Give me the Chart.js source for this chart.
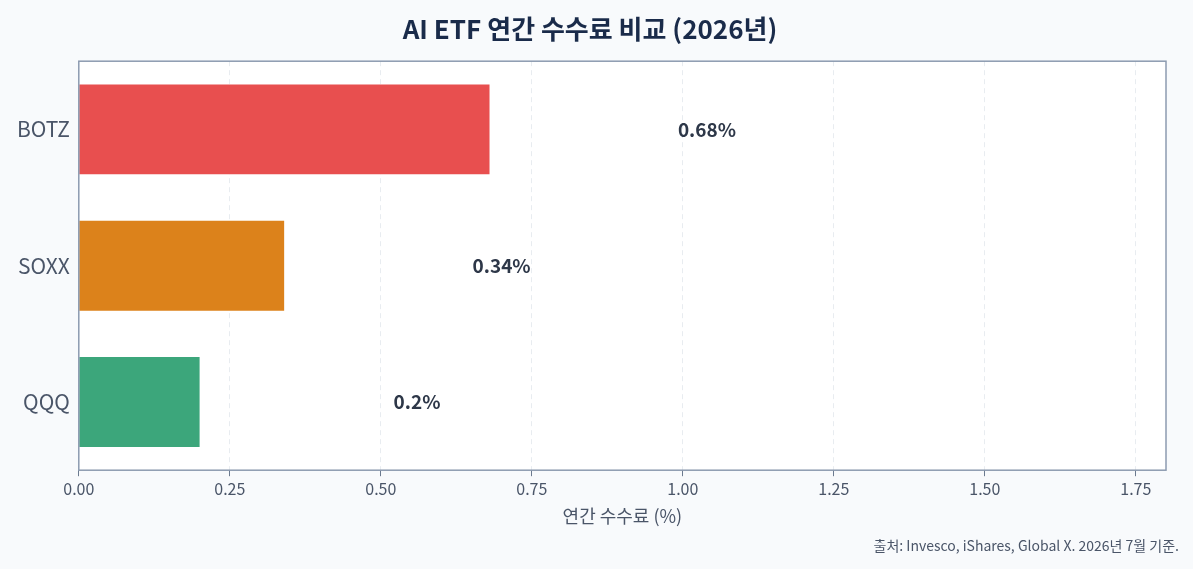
<!DOCTYPE html>
<html>
<head>
<meta charset="utf-8">
<script src="https://cdn.jsdelivr.net/npm/chart.js@4"></script>
<style>
  html, body { margin: 0; padding: 0; background: #f8fafc; }
  #wrap { position: relative; width: 1193px; height: 569px; }
  #note { position: absolute; right: 14px; bottom: 14px; font: 14px "Noto Sans CJK KR", sans-serif; color: #4a5568; }
</style>
</head>
<body>
<div id="wrap">
  <canvas id="chart" width="1193" height="569"></canvas>
  <div id="note">출처: Invesco, iShares, Global X. 2026년 7월 기준.</div>
</div>
<script>
// 데이터
const funds = ["BOTZ", "SOXX", "QQQ"];
const fees = [0.68, 0.34, 0.2];
const feeLabels = ["0.68%", "0.34%", "0.2%"];
const xTicks = [0, 0.25, 0.5, 0.75, 1, 1.25, 1.5, 1.75];
const barColors = ["#e84f4f", "#dc821b", "#3ca67b"];

const fontFamily = '"Noto Sans CJK KR", "Noto Sans", sans-serif';

// 플롯 영역 배경 + 테두리
const plotBox = {
    id: "plotBox",
    beforeDraw(chart) {
        const { ctx, chartArea: a } = chart;
        ctx.save();
        ctx.fillStyle = "#ffffff";
        ctx.fillRect(a.left, a.top, a.right - a.left, a.bottom - a.top);
        ctx.restore();
    },
    afterDraw(chart) {
        const { ctx, chartArea: a } = chart;
        ctx.save();
        ctx.strokeStyle = "#8c9bb0";
        ctx.lineWidth = 1.5;
        ctx.strokeRect(a.left, a.top, a.right - a.left, a.bottom - a.top);
        ctx.restore();
    }
};

// 값 라벨
const valueLabels = {
    id: "valueLabels",
    afterDatasetsDraw(chart) {
        const { ctx } = chart;
        const x = chart.scales.x;
        const meta = chart.getDatasetMeta(0);
        ctx.save();
        ctx.font = "bold 19px " + fontFamily;
        ctx.fillStyle = "#2d3748";
        ctx.textAlign = "center";
        ctx.textBaseline = "middle";
        meta.data.forEach(function (bar, i) {
            ctx.fillText(feeLabels[i], x.getPixelForValue(fees[i] + 0.36), bar.y);
        });
        ctx.restore();
    }
};

new Chart(document.getElementById("chart").getContext("2d"), {
    type: "bar",
    data: {
        labels: funds,
        datasets: [{
            data: fees,
            backgroundColor: barColors,
            categoryPercentage: 1,
            barPercentage: 0.66
        }]
    },
    options: {
        indexAxis: "y",
        responsive: false,
        animation: false,
        layout: { padding: { left: 14, right: 27, top: 0, bottom: 38 } },
        plugins: {
            legend: { display: false },
            tooltip: { enabled: false },
            title: {
                display: true,
                text: "AI ETF 연간 수수료 비교 (2026년)",
                color: "#1a2b4a",
                font: { family: fontFamily, size: 26, weight: "bold" },
                padding: { top: 14, bottom: 16 }
            }
        },
        scales: {
            x: {
                min: 0,
                max: 1.8,
                afterBuildTicks: function (axis) {
                    axis.ticks = xTicks.map(function (v) { return { value: v }; });
                },
                ticks: {
                    autoSkip: false,
                    color: "#4a5568",
                    font: { family: fontFamily, size: 16 },
                    callback: function (v) { return Number(v).toFixed(2); }
                },
                grid: { color: "#e8ecf0", drawTicks: true, tickColor: "#6b7a8f", tickLength: 6 },
                border: { display: false, dash: [5, 4] },
                title: {
                    display: true,
                    text: "연간 수수료 (%)",
                    color: "#4a5568",
                    font: { family: fontFamily, size: 18 }
                }
            },
            y: {
                ticks: { color: "#4a5568", font: { family: fontFamily, size: 21 } },
                grid: { display: false, drawTicks: true, tickColor: "#6b7a8f", tickLength: 6 },
                border: { display: false }
            }
        }
    },
    plugins: [plotBox, valueLabels]
});
</script>
</body>
</html>
